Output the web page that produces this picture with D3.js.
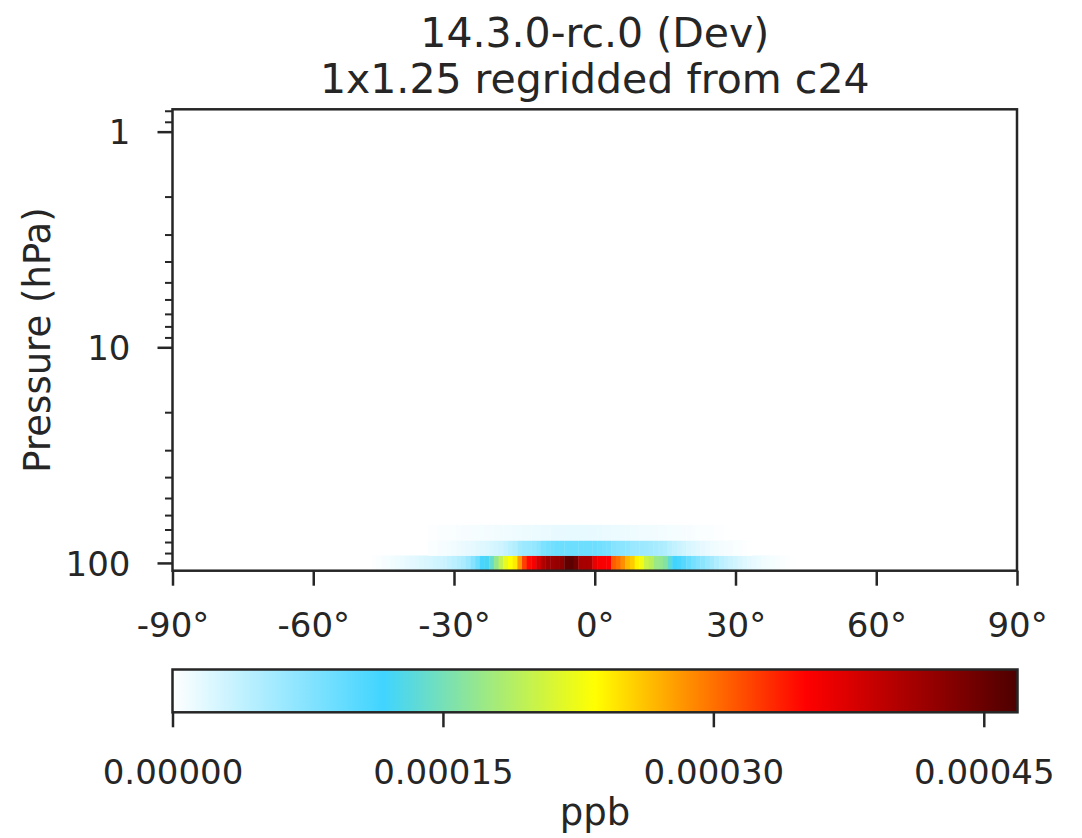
<!DOCTYPE html>
<html>
<head>
<meta charset="utf-8">
<script src="https://cdn.jsdelivr.net/npm/d3@7"></script>
<style>
  html, body { margin: 0; padding: 0; background: #ffffff; }
  svg { display: block; }
  text { font-family: "DejaVu Sans", sans-serif; fill: #262626; }
</style>
</head>
<body>
<svg id="chart" width="1082" height="838"></svg>
<script>
// ---------------- data ----------------
const titleLines = ["14.3.0-rc.0 (Dev)", "1x1.25 regridded from c24"];
const yLabel = "Pressure (hPa)";
const cbLabel = "ppb";

// latitude ticks
const latTicks = [-90, -60, -30, 0, 30, 60, 90];
// pressure major ticks
const pressTicks = [1, 10, 100];
// colorbar ticks
const cbTicks = [0, 0.00015, 0.0003, 0.00045];
const cbMax = 0.0004687;

// colormap stops (white -> sky blue -> yellow -> red -> dark maroon)
const cmapColors = ["#ffffff", "#40d4ff", "#ffff00", "#ff0000", "#4d0000"];

// pressure edges of the plotted model levels (hPa), bottom -> top
const levelEdges = [108.663, 92.366, 78.512, 66.603];
// axis pressure limits
const pressBottom = 108.663;
const pressTop = 0.7876;

// zonal-mean values (ppb), 1-degree latitude cells, by level
// level 1 (lowest): latitudes -47 .. 42
const lat1Start = -47;
const level1 = [
  1.9e-6, 2.8e-6, 4.7e-6, 6.6e-6, 8.4e-6, 10.3e-6, 12.2e-6, 14.1e-6, 16.4e-6, 18.7e-6,
  21.1e-6, 23.4e-6, 25.8e-6, 28.1e-6, 30.5e-6, 32.8e-6, 37.5e-6, 42.2e-6, 46.9e-6, 51.6e-6,
  61e-6, 75e-6, 89e-6, 112.5e-6, 122e-6, 140.6e-6, 169e-6, 197e-6, 220e-6, 234e-6,
  244e-6, 281e-6, 323e-6, 347e-6, 356e-6, 380e-6, 403e-6, 417e-6, 417e-6, 422e-6,
  427e-6, 455e-6, 459e-6, 445e-6, 410e-6, 410e-6, 408e-6, 366e-6, 356e-6, 354e-6,
  351.5e-6, 309e-6, 300e-6, 286e-6, 267e-6, 258e-6, 239e-6, 225e-6, 201.5e-6, 192e-6,
  173e-6, 169e-6, 159e-6, 136e-6, 117e-6, 112.5e-6, 103e-6, 93.7e-6, 84.4e-6, 77e-6,
  70.3e-6, 63.3e-6, 56.2e-6, 49.2e-6, 42.2e-6, 37.5e-6, 32.8e-6, 28.1e-6, 23.4e-6, 19.7e-6,
  16.4e-6, 14.1e-6, 11.7e-6, 9.4e-6, 7.5e-6, 5.6e-6, 4.2e-6, 2.8e-6, 1.9e-6, 0.9e-6
];
// level 2: latitudes -35 .. 33
const lat2Start = -35;
const level2 = [
  2.3e-6, 3.7e-6, 4.7e-6, 6.1e-6, 7.5e-6, 9.4e-6, 10.8e-6, 12.7e-6, 14.1e-6, 15.9e-6,
  17.8e-6, 19.7e-6, 22e-6, 24.4e-6, 27.2e-6, 30.5e-6, 35.2e-6, 42.2e-6, 46.9e-6, 56.2e-6,
  61e-6, 63.3e-6, 65.6e-6, 70.3e-6, 79.7e-6, 84.4e-6, 86.7e-6, 89e-6, 89e-6, 89e-6,
  89e-6, 89e-6, 89e-6, 89e-6, 89e-6, 89e-6, 86.7e-6, 84.4e-6, 82e-6, 75e-6,
  72.6e-6, 70.3e-6, 68e-6, 63.3e-6, 61e-6, 61e-6, 58.6e-6, 56.2e-6, 53.9e-6, 51.6e-6,
  49.2e-6, 42.2e-6, 37.5e-6, 32.8e-6, 28.1e-6, 24.4e-6, 21.1e-6, 17.8e-6, 15e-6, 12.7e-6,
  10.3e-6, 8.4e-6, 7e-6, 5.6e-6, 4.7e-6, 3.7e-6, 2.8e-6, 1.9e-6, 0.9e-6
];
// level 3: latitudes -35 .. 28
const lat3Start = -35;
const level3 = [
  1.4e-6, 1.9e-6, 2.3e-6, 2.8e-6, 3.3e-6, 3.7e-6, 4.2e-6, 4.7e-6, 5.2e-6, 5.6e-6,
  6.1e-6, 6.6e-6, 7.0e-6, 7.5e-6, 8.0e-6, 8.4e-6, 8.9e-6, 9.4e-6, 9.8e-6,
  10.3e-6, 10.8e-6, 11.2e-6, 11.7e-6, 12.2e-6, 12.7e-6, 13.1e-6,
  13.6e-6, 14.1e-6, 14.1e-6, 14.5e-6, 14.5e-6, 14.5e-6, 14.5e-6, 14.5e-6, 14.1e-6, 14.1e-6, 13.6e-6, 13.1e-6, 12.7e-6,
  12.2e-6, 11.7e-6, 11.2e-6, 10.8e-6, 10.3e-6, 9.8e-6, 9.4e-6, 8.9e-6, 8.4e-6,
  7.9e-6, 7.5e-6, 7.0e-6, 6.6e-6, 6.1e-6, 5.6e-6, 5.2e-6, 4.7e-6, 4.2e-6, 3.7e-6,
  3.3e-6, 2.8e-6, 2.3e-6, 1.9e-6, 1.4e-6, 0.9e-6
];

// ---------------- layout ----------------
const plot = { left: 172.5, right: 1017, top: 109.3, bottom: 570.7 };
const cb = { left: 172.5, right: 1017.5, top: 669.5, bottom: 712.3 };
const ink = "#262626";
const lw = 2.5;

const svg = d3.select("#chart");

const x = d3.scaleLinear().domain([-90, 90]).range([plot.left, plot.right]);
const y = d3.scaleLog().domain([pressTop, pressBottom]).range([plot.top, plot.bottom]);

const color = d3.scaleSequential(d3.piecewise(d3.interpolateRgb, cmapColors)).domain([0, cbMax]);

// ---------------- heatmap cells ----------------
const levels = [
  { start: lat1Start, vals: level1, pLo: levelEdges[0], pHi: levelEdges[1] },
  { start: lat2Start, vals: level2, pLo: levelEdges[1], pHi: levelEdges[2] },
  { start: lat3Start, vals: level3, pLo: levelEdges[2], pHi: levelEdges[3] }
];
const cells = [];
levels.forEach(L => {
  L.vals.forEach((v, i) => {
    const lat = L.start + i;
    cells.push({ lat0: Math.max(-90, lat - 0.5), lat1: Math.min(90, lat + 0.5), pLo: L.pLo, pHi: L.pHi, v });
  });
});
svg.append("g").selectAll("rect").data(cells).join("rect")
  .attr("x", d => x(d.lat0))
  .attr("width", d => x(d.lat1) - x(d.lat0) + 0.4)
  .attr("y", d => y(d.pHi))
  .attr("height", d => y(d.pLo) - y(d.pHi) + 0.4)
  .attr("fill", d => color(d.v));

// ---------------- frame ----------------
svg.append("rect")
  .attr("x", plot.left).attr("y", plot.top)
  .attr("width", plot.right - plot.left).attr("height", plot.bottom - plot.top)
  .attr("fill", "none").attr("stroke", ink).attr("stroke-width", lw);

// ---------------- x axis ----------------
const xAxis = svg.append("g").attr("transform", `translate(0,${plot.bottom})`)
  .call(d3.axisBottom(x).tickValues(latTicks).tickSize(15).tickPadding(0).tickFormat(d => d + "°"));
xAxis.select(".domain").remove();
xAxis.selectAll(".tick line").attr("stroke", ink).attr("stroke-width", lw);
xAxis.selectAll(".tick text")
  .attr("y", 66).attr("dy", null)
  .style("font-size", "34px").attr("fill", ink);

// ---------------- y axis ----------------
const minorTicks = y.ticks().filter(t => pressTicks.indexOf(t) < 0);
const yMinor = svg.append("g").attr("transform", `translate(${plot.left},0)`)
  .call(d3.axisLeft(y).tickValues(minorTicks).tickSize(7.5).tickFormat(""));
yMinor.select(".domain").remove();
yMinor.selectAll(".tick line").attr("stroke", ink).attr("stroke-width", lw * 0.8);

const yAxis = svg.append("g").attr("transform", `translate(${plot.left},0)`)
  .call(d3.axisLeft(y).tickValues(pressTicks).tickSize(15).tickPadding(27).tickFormat(d3.format("d")));
yAxis.select(".domain").remove();
yAxis.selectAll(".tick line").attr("stroke", ink).attr("stroke-width", lw);
yAxis.selectAll(".tick text").style("font-size", "34px").attr("fill", ink).attr("dy", "0.36em");

// y label
svg.append("text")
  .attr("transform", `translate(50,${(plot.top + plot.bottom) / 2}) rotate(-90)`)
  .attr("text-anchor", "middle")
  .style("font-size", "37px")
  .text(yLabel);

// ---------------- title ----------------
svg.append("text").attr("x", (plot.left + plot.right) / 2).attr("y", 47)
  .attr("text-anchor", "middle").style("font-size", "41px").text(titleLines[0]);
svg.append("text").attr("x", (plot.left + plot.right) / 2).attr("y", 93)
  .attr("text-anchor", "middle").style("font-size", "41px").text(titleLines[1]);

// ---------------- colorbar ----------------
const cbx = d3.scaleLinear().domain([0, cbMax]).range([cb.left, cb.right]);
const defs = svg.append("defs");
const grad = defs.append("linearGradient").attr("id", "cbgrad")
  .attr("x1", "0%").attr("x2", "100%").attr("y1", "0%").attr("y2", "0%");
const nStops = 64;
d3.range(nStops + 1).forEach(i => {
  const t = i / nStops;
  grad.append("stop").attr("offset", (t * 100) + "%").attr("stop-color", color(t * cbMax));
});
svg.append("rect")
  .attr("x", cb.left).attr("y", cb.top)
  .attr("width", cb.right - cb.left).attr("height", cb.bottom - cb.top)
  .attr("fill", "url(#cbgrad)")
  .attr("stroke", ink).attr("stroke-width", lw);

const cbAxis = svg.append("g").attr("transform", `translate(0,${cb.bottom})`)
  .call(d3.axisBottom(cbx).tickValues(cbTicks).tickSize(15).tickFormat(d3.format(".5f")));
cbAxis.select(".domain").remove();
cbAxis.selectAll(".tick line").attr("stroke", ink).attr("stroke-width", lw);
cbAxis.selectAll(".tick text")
  .attr("y", 72).attr("dy", null)
  .style("font-size", "34px").attr("fill", ink);

svg.append("text").attr("x", (cb.left + cb.right) / 2).attr("y", 825)
  .attr("text-anchor", "middle").style("font-size", "37px").text(cbLabel);
</script>
</body>
</html>
